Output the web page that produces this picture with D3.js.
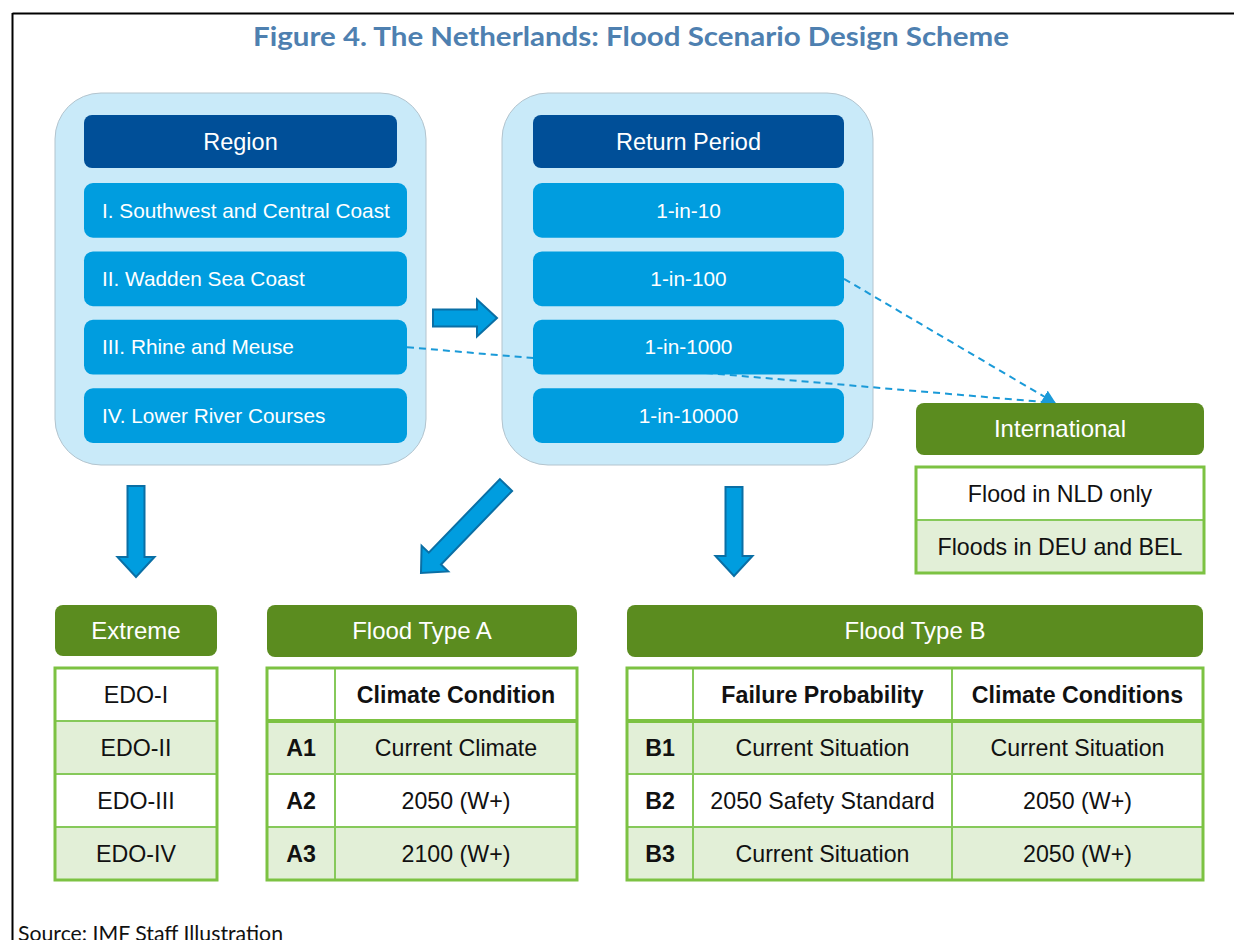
<!DOCTYPE html>
<html>
<head>
<meta charset="utf-8">
<script src="https://cdn.jsdelivr.net/npm/d3@7"></script>
<style>
  body { margin: 0; background: #fff; }
  svg { display: block; }
</style>
</head>
<body>
<svg id="chart" width="1234" height="940"></svg>
<script>
// ---- data ----
var titleText = "Figure 4. The Netherlands: Flood Scenario Design Scheme",
    sourceText = "Source: IMF Staff Illustration";

var regionTitle = "Region",
    regions = ["I. Southwest and Central Coast", "II. Wadden Sea Coast", "III. Rhine and Meuse", "IV. Lower River Courses"];

var periodTitle = "Return Period",
    periods = ["1-in-10", "1-in-100", "1-in-1000", "1-in-10000"];

var intlTitle = "International",
    intlRows = [["Flood in NLD only"], ["Floods in DEU and BEL"]];

var extremeTitle = "Extreme",
    extremeRows = [["EDO-I"], ["EDO-II"], ["EDO-III"], ["EDO-IV"]];

var typeATitle = "Flood Type A",
    typeAHead = ["", "Climate Condition"],
    typeARows = [["A1", "Current Climate"], ["A2", "2050 (W+)"], ["A3", "2100 (W+)"]];

var typeBTitle = "Flood Type B",
    typeBHead = ["", "Failure Probability", "Climate Conditions"],
    typeBRows = [["B1", "Current Situation", "Current Situation"],
                 ["B2", "2050 Safety Standard", "2050 (W+)"],
                 ["B3", "Current Situation", "2050 (W+)"]];

// which rows feed the international box
var links = [
  {list: "region", row: "III. Rhine and Meuse"},
  {list: "period", row: "1-in-100", head: true}
];

// ---- styles ----
var font = "'Liberation Sans', Arial, sans-serif",
    darkBlue = "#004f98",
    rowBlue = "#009ddf",
    paleBlue = "#c9eaf9",
    green = "#5b8c1f",
    tableLine = "#7cc242",
    paleGreen = "#e2efd7";

var svg = d3.select("#chart");

// frame
svg.append("line").attr("x1", 12.5).attr("x2", 1234).attr("y1", 13.5).attr("y2", 13.5)
  .attr("stroke", "#000").attr("stroke-width", 2);
svg.append("line").attr("x1", 12.5).attr("x2", 12.5).attr("y1", 13).attr("y2", 940)
  .attr("stroke", "#000").attr("stroke-width", 2);

svg.append("text")
  .attr("x", 631).attr("y", 46)
  .attr("text-anchor", "middle")
  .attr("font-family", "Lato, 'Open Sans', sans-serif")
  .attr("font-weight", "bold")
  .attr("font-size", 27)
  .attr("fill", "#4e80b0")
  .attr("textLength", 756)
  .attr("lengthAdjust", "spacingAndGlyphs")
  .text(titleText);

// the source line sits on the bottom edge, as in the original
svg.append("text")
  .attr("x", 18).attr("y", 941)
  .attr("font-family", "Lato, 'Open Sans', sans-serif")
  .attr("font-size", 21)
  .attr("fill", "#111")
  .attr("textLength", 265)
  .attr("lengthAdjust", "spacingAndGlyphs")
  .text(sourceText);

// ---- blue panels ----
var rowY = d3.scaleBand().range([183, 443]).paddingInner(0.2).paddingOuter(0);

var panels = [
  {key: "region", title: regionTitle, rows: regions, x: 55, hx: 84, hw: 313, rx0: 84, rx1: 407, align: "start"},
  {key: "period", title: periodTitle, rows: periods, x: 502, hx: 533, hw: 311, rx0: 533, rx1: 844, align: "middle"}
];

var gBack = svg.append("g"),
    gLinks = svg.append("g"),
    gFront = svg.append("g");

panels.forEach(function(p) {
  gBack.append("rect")
    .attr("x", p.x).attr("y", 93)
    .attr("width", 371).attr("height", 372)
    .attr("rx", 46)
    .attr("fill", paleBlue)
    .attr("stroke", "#b3c4ce").attr("stroke-width", 1);

  gFront.append("rect")
    .attr("x", p.hx).attr("y", 115)
    .attr("width", p.hw).attr("height", 53)
    .attr("rx", 8)
    .attr("fill", darkBlue);
  gFront.append("text")
    .attr("x", p.hx + p.hw / 2).attr("y", 142)
    .attr("dy", "0.35em")
    .attr("text-anchor", "middle")
    .attr("font-family", font).attr("font-size", 23.5)
    .attr("fill", "#fff")
    .text(p.title);

  var y = rowY.copy().domain(p.rows);
  p.y = y;

  var row = gFront.selectAll(null).data(p.rows).enter().append("g");
  row.append("rect")
    .attr("x", p.rx0).attr("y", function(d) { return y(d); })
    .attr("width", p.rx1 - p.rx0).attr("height", y.bandwidth())
    .attr("rx", 9)
    .attr("fill", rowBlue);
  row.append("text")
    .attr("x", p.align === "start" ? p.rx0 + 18 : (p.rx0 + p.rx1) / 2)
    .attr("y", function(d) { return y(d) + y.bandwidth() / 2; })
    .attr("dy", "0.35em")
    .attr("text-anchor", p.align)
    .attr("font-family", font).attr("font-size", 20.8)
    .attr("fill", "#fff")
    .text(function(d) { return d; });
});

// ---- dashed links to International ----
var target = [1055, 403];
svg.append("defs").append("marker")
  .attr("id", "tri")
  .attr("viewBox", "0 0 10 10")
  .attr("refX", 9).attr("refY", 5)
  .attr("markerWidth", 7).attr("markerHeight", 7)
  .attr("markerUnits", "strokeWidth")
  .attr("orient", "auto")
  .append("path").attr("d", "M0,0L10,5L0,10Z").attr("fill", "#1a9ad8");

links.forEach(function(l) {
  var p = panels.filter(function(q) { return q.key === l.list; })[0];
  gLinks.append("line")
    .attr("x1", p.rx1).attr("y1", p.y(l.row) + p.y.bandwidth() / 2)
    .attr("x2", target[0]).attr("y2", target[1])
    .attr("stroke", "#1a9ad8").attr("stroke-width", 2)
    .attr("stroke-dasharray", "7,5")
    .attr("marker-end", l.head ? "url(#tri)" : null);
});

// ---- block arrows ----
function arrowPoints(a, b, sw, hw, hl) {
  var dx = b[0] - a[0], dy = b[1] - a[1],
      len = Math.sqrt(dx * dx + dy * dy),
      ux = dx / len, uy = dy / len,
      px = -uy, py = ux,
      nx = a[0] + ux * (len - hl), ny = a[1] + uy * (len - hl);
  return [
    [a[0] + px * sw / 2, a[1] + py * sw / 2],
    [nx + px * sw / 2, ny + py * sw / 2],
    [nx + px * hw / 2, ny + py * hw / 2],
    b,
    [nx - px * hw / 2, ny - py * hw / 2],
    [nx - px * sw / 2, ny - py * sw / 2],
    [a[0] - px * sw / 2, a[1] - py * sw / 2]
  ];
}

var arrows = [
  [[433, 318], [497, 318]],
  [[136, 486], [136, 577]],
  [[506, 485], [421, 573]],
  [[734, 487], [734, 576]]
];

svg.append("g").selectAll("polygon").data(arrows).enter().append("polygon")
  .attr("points", function(d) { return arrowPoints(d[0], d[1], 17, 37, 20).join(" "); })
  .attr("fill", "#009ddf")
  .attr("stroke", "#0a6fa5").attr("stroke-width", 2)
  .attr("stroke-linejoin", "miter");

// ---- green header + table blocks ----
function greenHeader(x, y, w, h, label) {
  svg.append("rect")
    .attr("x", x).attr("y", y).attr("width", w).attr("height", h)
    .attr("rx", 8).attr("fill", green);
  svg.append("text")
    .attr("x", x + w / 2).attr("y", y + h / 2)
    .attr("dy", "0.35em").attr("text-anchor", "middle")
    .attr("font-family", font).attr("font-size", 24)
    .attr("fill", "#fff")
    .text(label);
}

function table(cols, top, bottom, rows, hasHead) {
  var y = d3.scaleBand().domain(d3.range(rows.length)).range([top, bottom]);
  var g = svg.append("g");
  rows.forEach(function(r, i) {
    var fill = i % 2 === 0 ? "#fff" : paleGreen;
    r.forEach(function(cell, j) {
      g.append("rect")
        .attr("x", cols[j]).attr("y", y(i))
        .attr("width", cols[j + 1] - cols[j]).attr("height", y.bandwidth())
        .attr("fill", fill)
        .attr("stroke", "#86c95a").attr("stroke-width", 2);
      g.append("text")
        .attr("x", (cols[j] + cols[j + 1]) / 2)
        .attr("y", y(i) + y.bandwidth() / 2)
        .attr("dy", "0.35em").attr("text-anchor", "middle")
        .attr("font-family", font).attr("font-size", 23.2)
        .attr("font-weight", (hasHead && (i === 0 || j === 0)) ? "bold" : "normal")
        .attr("fill", "#111")
        .text(cell);
    });
  });
  g.append("rect")
    .attr("x", cols[0]).attr("y", top)
    .attr("width", cols[cols.length - 1] - cols[0]).attr("height", bottom - top)
    .attr("fill", "none").attr("stroke", tableLine).attr("stroke-width", 3);
  if (hasHead) {
    g.append("line")
      .attr("x1", cols[0]).attr("x2", cols[cols.length - 1])
      .attr("y1", y(1)).attr("y2", y(1))
      .attr("stroke", tableLine).attr("stroke-width", 4);
  }
}

greenHeader(916, 403, 288, 52, intlTitle);
table([916, 1204], 467, 573, intlRows, false);

greenHeader(55, 605, 162, 51, extremeTitle);
table([55, 217], 668, 880, extremeRows, false);

greenHeader(267, 605, 310, 52, typeATitle);
table([267, 335, 577], 668, 880, [typeAHead].concat(typeARows), true);

greenHeader(627, 605, 576, 52, typeBTitle);
table([627, 693, 952, 1203], 668, 880, [typeBHead].concat(typeBRows), true);
</script>
</body>
</html>
